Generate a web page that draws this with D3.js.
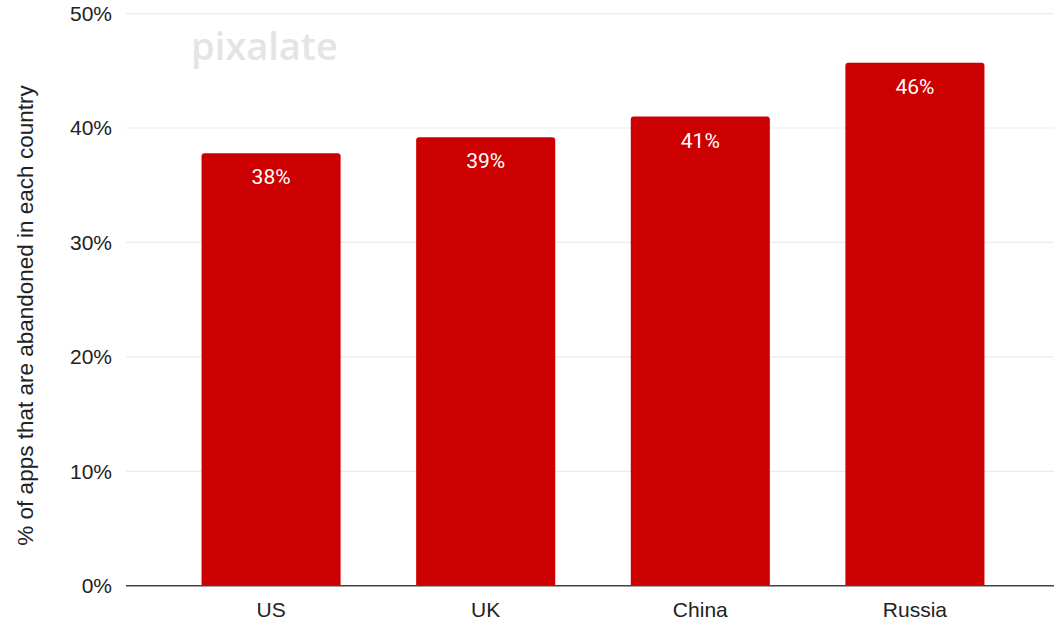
<!DOCTYPE html>
<html>
<head>
<meta charset="utf-8">
<script src="https://cdn.jsdelivr.net/npm/d3@7"></script>
<style>
  html, body { margin: 0; padding: 0; background: #fff; }
  svg { display: block; }
</style>
</head>
<body>
<svg id="chart" width="1054" height="623"></svg>
<script>
// Share of apps abandoned, by country
const countries = ["US", "UK", "China", "Russia"];
const shares = [0.378, 0.392, 0.41, 0.457];
const yTicks = [0, 0.1, 0.2, 0.3, 0.4, 0.5];
const yTitle = "% of apps that are abandoned in each country";

const svg = d3.select("#chart");
const plotLeft = 126, plotRight = 1060, plotTop = 13.6, plotBottom = 585.7;

const x = d3.scaleBand()
  .domain(countries)
  .range([plotLeft, plotRight])
  .paddingInner(0.352)
  .paddingOuter(0.352);

const y = d3.scaleLinear().domain([0, 0.5]).range([plotBottom, plotTop]);
const pct = d3.format(".0%");

// horizontal gridlines
svg.append("g")
  .selectAll("line")
  .data(yTicks.filter(d => d > 0))
  .join("line")
  .attr("x1", plotLeft).attr("x2", plotRight)
  .attr("y1", d => y(d)).attr("y2", d => y(d))
  .attr("stroke", "#ebebeb").attr("stroke-width", 1.2);

// watermark
svg.append("text")
  .attr("x", 191).attr("y", 60)
  .attr("font-family", "'Open Sans', Lato, sans-serif")
  .attr("font-weight", 600)
  .attr("font-size", 38)
  .attr("fill", "#e4e4e4")
  .text("pixalate");

// y axis tick labels
const yAxis = d3.axisLeft(y).tickValues(yTicks).tickFormat(pct).tickSize(0).tickPadding(14);
const gy = svg.append("g").attr("transform", `translate(${plotLeft},0)`).call(yAxis);
gy.select(".domain").remove();
gy.selectAll("text")
  .attr("font-family", "'Liberation Sans', Arial, sans-serif")
  .attr("font-size", 21)
  .attr("fill", "#222");

// bars with slightly rounded tops
const r = 3;
svg.append("g")
  .selectAll("path")
  .data(countries.map((c, i) => ({ c, v: shares[i] })))
  .join("path")
  .attr("fill", "#cc0000")
  .attr("d", d => {
    const x0 = x(d.c), w = x.bandwidth(), y0 = y(d.v), y1 = y(0);
    return `M${x0},${y1}V${y0 + r}Q${x0},${y0} ${x0 + r},${y0}H${x0 + w - r}Q${x0 + w},${y0} ${x0 + w},${y0 + r}V${y1}Z`;
  });

// value labels inside bars
svg.append("g")
  .selectAll("text")
  .data(countries.map((c, i) => ({ c, v: shares[i] })))
  .join("text")
  .attr("x", d => x(d.c) + x.bandwidth() / 2)
  .attr("y", d => y(d.v) + 31)
  .attr("text-anchor", "middle")
  .attr("font-family", "Roboto, sans-serif")
  .attr("font-size", 21)
  .attr("fill", "#fff")
  .text(d => pct(d.v));

// x axis
const xAxis = d3.axisBottom(x).tickSize(0).tickPadding(16);
const gx = svg.append("g").attr("transform", `translate(0,${plotBottom})`).call(xAxis);
gx.select(".domain")
  .attr("stroke", "#444").attr("stroke-width", 1.6)
  .attr("d", `M${plotLeft},0H${plotRight}`);
gx.selectAll("text")
  .attr("font-family", "'Liberation Sans', Arial, sans-serif")
  .attr("font-size", 21)
  .attr("fill", "#222");

// y axis title
svg.append("text")
  .attr("transform", `translate(33,${(83 + 548) / 2}) rotate(-90)`)
  .attr("text-anchor", "middle")
  .attr("font-family", "'Liberation Sans', Arial, sans-serif")
  .attr("font-size", 22.5)
  .attr("fill", "#222")
  .text(yTitle);
</script>
</body>
</html>
